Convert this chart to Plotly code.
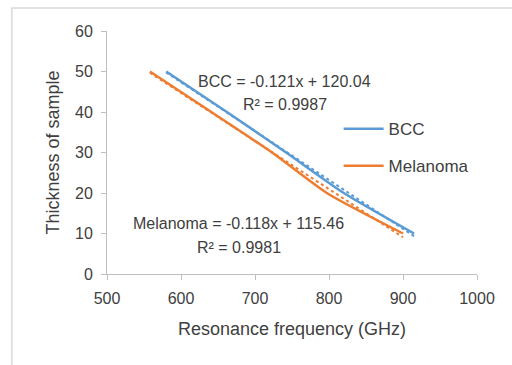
import numpy as np
import plotly.graph_objects as go

# Measured resonance frequency (GHz) against sample thickness
thickness = [50, 40, 30, 20, 10]
bcc_freq = [580, 662, 742, 820, 915]
mel_freq = [558, 641, 723, 797, 900]

bcc_eq = "BCC = -0.121x + 120.04"
bcc_r2 = "R² = 0.9987"
mel_eq = "Melanoma = -0.118x + 115.46"
mel_r2 = "R² = 0.9981"

x_ticks = [500, 600, 700, 800, 900, 1000]
y_ticks = [0, 10, 20, 30, 40, 50, 60]

BLUE = "#5b9bd5"
ORANGE = "#ed7d31"
FONT = "Liberation Sans"
TXT = "#404040"


def fit_line(xs, ys):
    slope, icpt = np.polyfit(xs, ys, 1)
    xx = np.array([min(xs), max(xs)], dtype=float)
    return xx, slope * xx + icpt


fig = go.Figure()

# linear trend lines (dotted), drawn underneath the data
for xs, col in ((bcc_freq, BLUE), (mel_freq, ORANGE)):
    tx, ty = fit_line(xs, thickness)
    fig.add_trace(go.Scatter(x=tx, y=ty, mode="lines", showlegend=False,
                             line=dict(color=col, width=2, dash="dot")))

fig.add_trace(go.Scatter(x=bcc_freq, y=thickness, mode="lines", name="BCC",
                         legendgroup="a",
                         line=dict(color=BLUE, width=2.5, shape="spline", smoothing=0.6)))
fig.add_trace(go.Scatter(x=mel_freq, y=thickness, mode="lines", name="Melanoma",
                         legendgroup="b",
                         line=dict(color=ORANGE, width=2.5, shape="spline", smoothing=0.6)))

ann = dict(showarrow=False, font=dict(family=FONT, size=16, color=TXT),
           xref="x", yref="y")
fig.add_annotation(x=740, y=47.6, text=bcc_eq, **ann)
fig.add_annotation(x=740, y=41.9, text=bcc_r2, **ann)
fig.add_annotation(x=678, y=12.4, text=mel_eq, **ann)
fig.add_annotation(x=678, y=6.6, text=mel_r2, **ann)

axis_common = dict(showgrid=False, zeroline=False, showline=True,
                   linecolor="#bfbfbf", linewidth=1, ticks="outside",
                   ticklen=5, tickcolor="#bfbfbf", ticklabelstandoff=5,
                   tickfont=dict(family=FONT, size=16, color=TXT))

fig.update_xaxes(range=[500, 1000], tickvals=x_ticks,
                 title=dict(text="Resonance frequency (GHz)",
                            font=dict(family=FONT, size=18, color=TXT),
                            standoff=16),
                 **axis_common)
fig.update_yaxes(range=[0, 60], tickvals=y_ticks,
                 title=dict(text="Thickness of sample",
                            font=dict(family=FONT, size=18, color=TXT),
                            standoff=10),
                 **axis_common)

# chart frame
fig.add_shape(type="rect", xref="paper", yref="paper",
              x0=-0.257, x1=1.2, y0=-0.5, y1=1.095,
              line=dict(color="#d9d9d9", width=1.5), layer="below")

fig.update_layout(
    width=512, height=365,
    margin=dict(l=107, r=35, t=31, b=91),
    paper_bgcolor="white", plot_bgcolor="white",
    font=dict(family=FONT, color=TXT),
    showlegend=True,
    legend=dict(x=0.626, y=0.67, xanchor="left", yanchor="top",
                bgcolor="rgba(0,0,0,0)", font=dict(family=FONT, size=17, color=TXT),
                itemwidth=40, tracegroupgap=12),
)

fig.write_html("out.html")
